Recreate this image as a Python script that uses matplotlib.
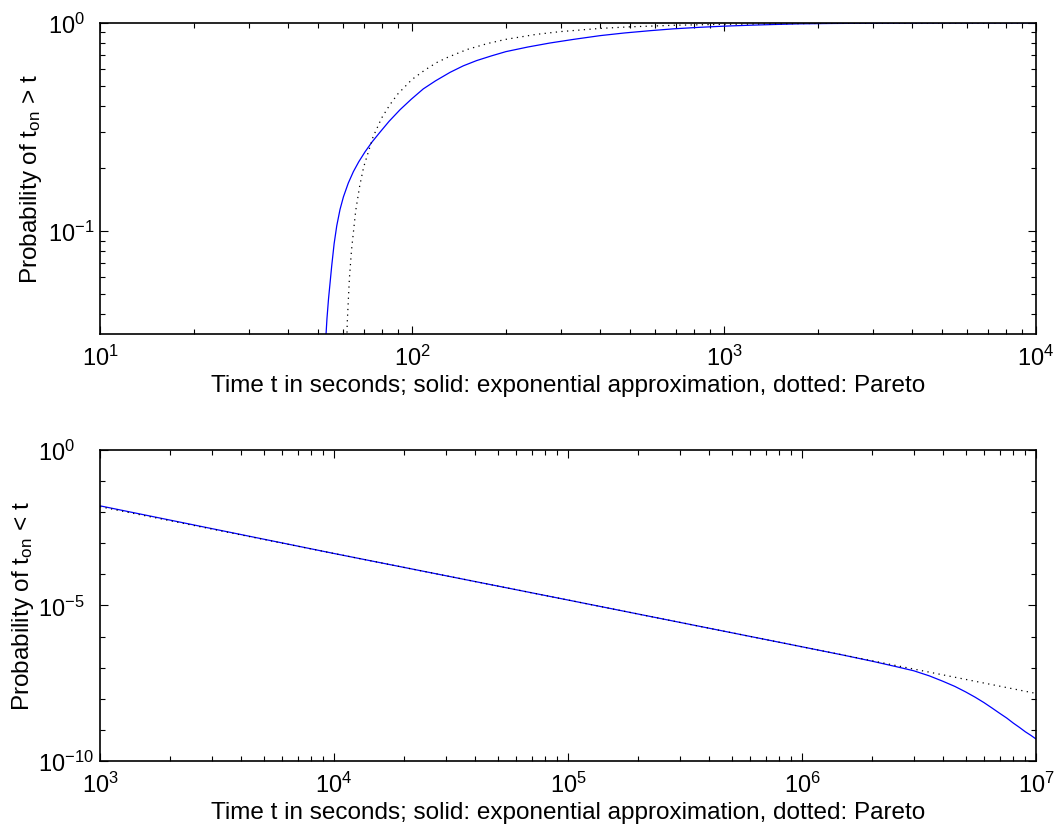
import numpy as np
import matplotlib
matplotlib.use("Agg")
import matplotlib.pyplot as plt
from matplotlib.ticker import FixedLocator, LogFormatterMathtext, NullFormatter

plt.rcParams['font.family'] = ['Liberation Sans', 'DejaVu Sans']
plt.rcParams['mathtext.fontset'] = 'custom'
plt.rcParams['mathtext.rm'] = 'Liberation Sans'
plt.rcParams['mathtext.it'] = 'Liberation Sans:italic'
plt.rcParams['mathtext.default'] = 'regular'

# top panel: probability curves for short times
t_top_exp = [52.9, 53.4, 54.0, 55.3, 56.3, 57.4, 58.8, 60.3, 62.5, 64.9, 67.5, 70.7, 74.5, 78.9,
             84.5, 91.6, 99.5, 108.7, 119, 132.5, 146, 161, 180, 200, 235, 277, 330, 401,
             480, 580, 690, 838, 1000, 1211, 1450, 1743, 2200, 3000, 5000, 10000]
p_top_exp = [0.030, 0.038, 0.047, 0.068, 0.087, 0.106, 0.127, 0.146, 0.170, 0.193, 0.215, 0.240, 0.268, 0.298,
             0.337, 0.383, 0.430, 0.482, 0.527, 0.579, 0.622, 0.659, 0.695, 0.728, 0.766, 0.801, 0.834, 0.869,
             0.895, 0.918, 0.937, 0.953, 0.965, 0.975, 0.983, 0.990, 0.994, 0.997, 0.999, 1.0]

t_top_par = [61, 62, 63, 64, 66, 68, 70, 75, 80, 85, 90, 100, 110, 120, 130, 150, 175,
             200, 250, 300, 400, 500, 700, 1000, 2000, 5000, 10000]
p_top_par = [0.012, 0.036, 0.059, 0.081, 0.125, 0.165, 0.203, 0.283, 0.350, 0.405, 0.455, 0.535, 0.594, 0.645,
             0.683, 0.745, 0.797, 0.834, 0.881, 0.909, 0.941, 0.958, 0.975, 0.985, 0.995, 0.9987, 0.9995]

# bottom panel: tail probabilities
t_bot_exp = [1e3, 1e4, 1e5, 1e6, 1.5e6, 2e6, 2.5e6, 3e6, 3.5e6, 4e6, 4.5e6, 5e6, 5.5e6,
             6e6, 6.5e6, 7e6, 7.5e6, 8e6, 8.5e6, 9e6, 9.5e6, 1e7]
p_bot_exp = [1.6e-2, 4.7e-4, 1.5e-5, 4.7e-7, 2.54e-7, 1.61e-7, 1.10e-7, 7.98e-8, 5.46e-8, 3.66e-8, 2.5e-8, 1.67e-8,
             1.12e-8, 7.5e-9, 5.0e-9, 3.4e-9, 2.4e-9, 1.65e-9, 1.2e-9, 8.7e-10, 6.7e-10, 5.1e-10]

t_bot_par = [1e3, 1e4, 1e5, 1e6, 1e7]
p_bot_par = [1.5e-2, 4.7e-4, 1.5e-5, 4.7e-7, 1.49e-8]

xlabel = "Time t in seconds; solid: exponential approximation, dotted: Pareto"
fs_tick = 17
fs_lab = 17.5

fig = plt.figure(figsize=(10.59, 8.37), dpi=100)
ax1 = fig.add_axes([0.0944, 0.5998, 0.8839, 0.3716])
ax2 = fig.add_axes([0.0944, 0.0896, 0.8839, 0.3716])


def style(ax, xmaj, xmin, ymaj, ymin, ypad):
    ax.set_xscale('log')
    ax.set_yscale('log')
    ax.xaxis.set_major_locator(FixedLocator(xmaj))
    ax.xaxis.set_minor_locator(FixedLocator(xmin))
    ax.yaxis.set_major_locator(FixedLocator(ymaj))
    ax.yaxis.set_minor_locator(FixedLocator(ymin))
    ax.xaxis.set_major_formatter(LogFormatterMathtext())
    ax.yaxis.set_major_formatter(LogFormatterMathtext())
    ax.xaxis.set_minor_formatter(NullFormatter())
    ax.yaxis.set_minor_formatter(NullFormatter())
    ax.tick_params(which='both', direction='in', top=True, right=True, width=0.8, labelsize=fs_tick)
    ax.tick_params(which='major', length=5.5)
    ax.tick_params(which='minor', length=3.5)
    ax.tick_params(axis='x', pad=8)
    ax.tick_params(axis='y', pad=ypad)
    for lab in ax.get_yticklabels():
        lab.set_horizontalalignment('left')
    for s in ax.spines.values():
        s.set_linewidth(1.2)


# top
ax1.plot(t_top_exp, p_top_exp, color='blue', lw=0.9)
ax1.plot(t_top_par, p_top_par, color='black', lw=0.9, linestyle=(0, (1, 3.5)))
ax1.set_xlim(10, 1e4)
ax1.set_ylim(0.032, 1)
style(ax1, [1e1, 1e2, 1e3, 1e4],
      [m * 10.0 ** e for e in range(1, 4) for m in range(2, 10)],
      [0.1, 1.0],
      [0.04, 0.05, 0.06, 0.07, 0.08, 0.09, 0.2, 0.3, 0.4, 0.5, 0.6, 0.7, 0.8, 0.9],
      37.4)
ax1.set_xlabel(xlabel, fontsize=fs_lab, labelpad=3)
ax1.set_ylabel("Probability of t$_{on}$ > t", fontsize=fs_lab)
ax1.yaxis.set_label_coords(-0.060, 0.5)

# bottom
ax2.plot(t_bot_exp, p_bot_exp, color='blue', lw=0.9)
ax2.plot(t_bot_par, p_bot_par, color='black', lw=0.9, linestyle=(0, (1, 3.5)))
ax2.set_xlim(1e3, 1e7)
ax2.set_ylim(1e-10, 1)
style(ax2, [1e3, 1e4, 1e5, 1e6, 1e7],
      [m * 10.0 ** e for e in range(3, 7) for m in range(2, 10)],
      [1e-10, 1e-5, 1e0],
      [10.0 ** -k for k in [1, 2, 3, 4, 6, 7, 8, 9]],
      44.6)
ax2.set_xlabel(xlabel, fontsize=fs_lab, labelpad=3)
ax2.set_ylabel("Probability of t$_{on}$ < t", fontsize=fs_lab)
ax2.yaxis.set_label_coords(-0.068, 0.5)

fig.savefig("out.png", dpi=100)
